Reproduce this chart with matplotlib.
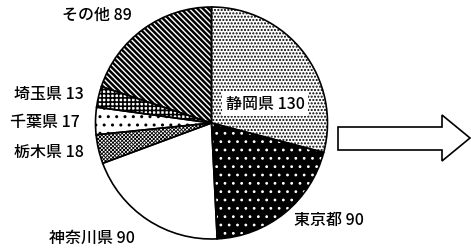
import matplotlib.pyplot as plt
from matplotlib.patches import Polygon

plt.rcParams['font.family'] = ['Noto Sans CJK JP', 'DejaVu Sans']
plt.rcParams['hatch.linewidth'] = 1.0

# shares by prefecture, clockwise from the top
labels = ['静岡県', '東京都', '神奈川県', '栃木県', '千葉県', '埼玉県', 'その他']
values = [130, 90, 90, 18, 17, 13, 89]

faces = ['white', 'black', 'white', 'white', 'white', 'white', 'white']
hatches = ['.....', '..', None, 'x' * 9, '..', '+' * 4, '\\' * 6]
hatch_cols = ['black', 'white', 'black', 'black', 'black', 'black', 'black']
hatch_lw = [1.0, 0.8, 1.0, 0.6, 1.0, 1.2, 1.8]

W, H = 471, 248
fig = plt.figure(figsize=(W / 100, H / 100), dpi=100)
ax = fig.add_axes([0, 0, 1, 1])

cx, cy, r = 211.5, H - 123, 116

wedges, _ = ax.pie(values, startangle=90, counterclock=False,
                   center=(cx, cy), radius=r, colors=faces)
for w, h, hc, lw in zip(wedges, hatches, hatch_cols, hatch_lw):
    w.set_edgecolor(hc)
    w.set_linewidth(0)
    if h:
        w.set_hatch(h)
        if hasattr(w, 'set_hatch_linewidth'):
            w.set_hatch_linewidth(lw)
        else:
            w._hatch_linewidth = lw

# outlines on top
ax.pie(values, startangle=90, counterclock=False,
       center=(cx, cy), radius=r,
       wedgeprops=dict(fill=False, edgecolor='black', linewidth=1.2))

ax.set_xlim(0, W)
ax.set_ylim(0, H)
ax.set_aspect('equal')
ax.axis('off')

fs = 11.5
tk = dict(fontsize=fs, ha='center', va='center', fontweight='medium')
ax.text(97, H - 15, 'その他 89', **tk)
ax.text(49, H - 95, '埼玉県 13', **tk)
ax.text(45, H - 122, '千葉県 17', **tk)
ax.text(49, H - 152, '栃木県 18', **tk)
ax.text(92, H - 238, '神奈川県 90', **tk)
ax.text(329, H - 220, '東京都 90', **tk)
ax.text(265, H - 104, '静岡県 130', **tk,
        bbox=dict(boxstyle='square,pad=0.25', facecolor='white', edgecolor='none'))

# hollow arrow on the right
arrow = Polygon([(338, H - 127), (442, H - 127), (442, H - 115), (470, H - 138),
                 (442, H - 161), (442, H - 150), (338, H - 150)],
                closed=True, facecolor='white', edgecolor='black', linewidth=1.2)
ax.add_patch(arrow)

fig.savefig('out.png', dpi=100)
